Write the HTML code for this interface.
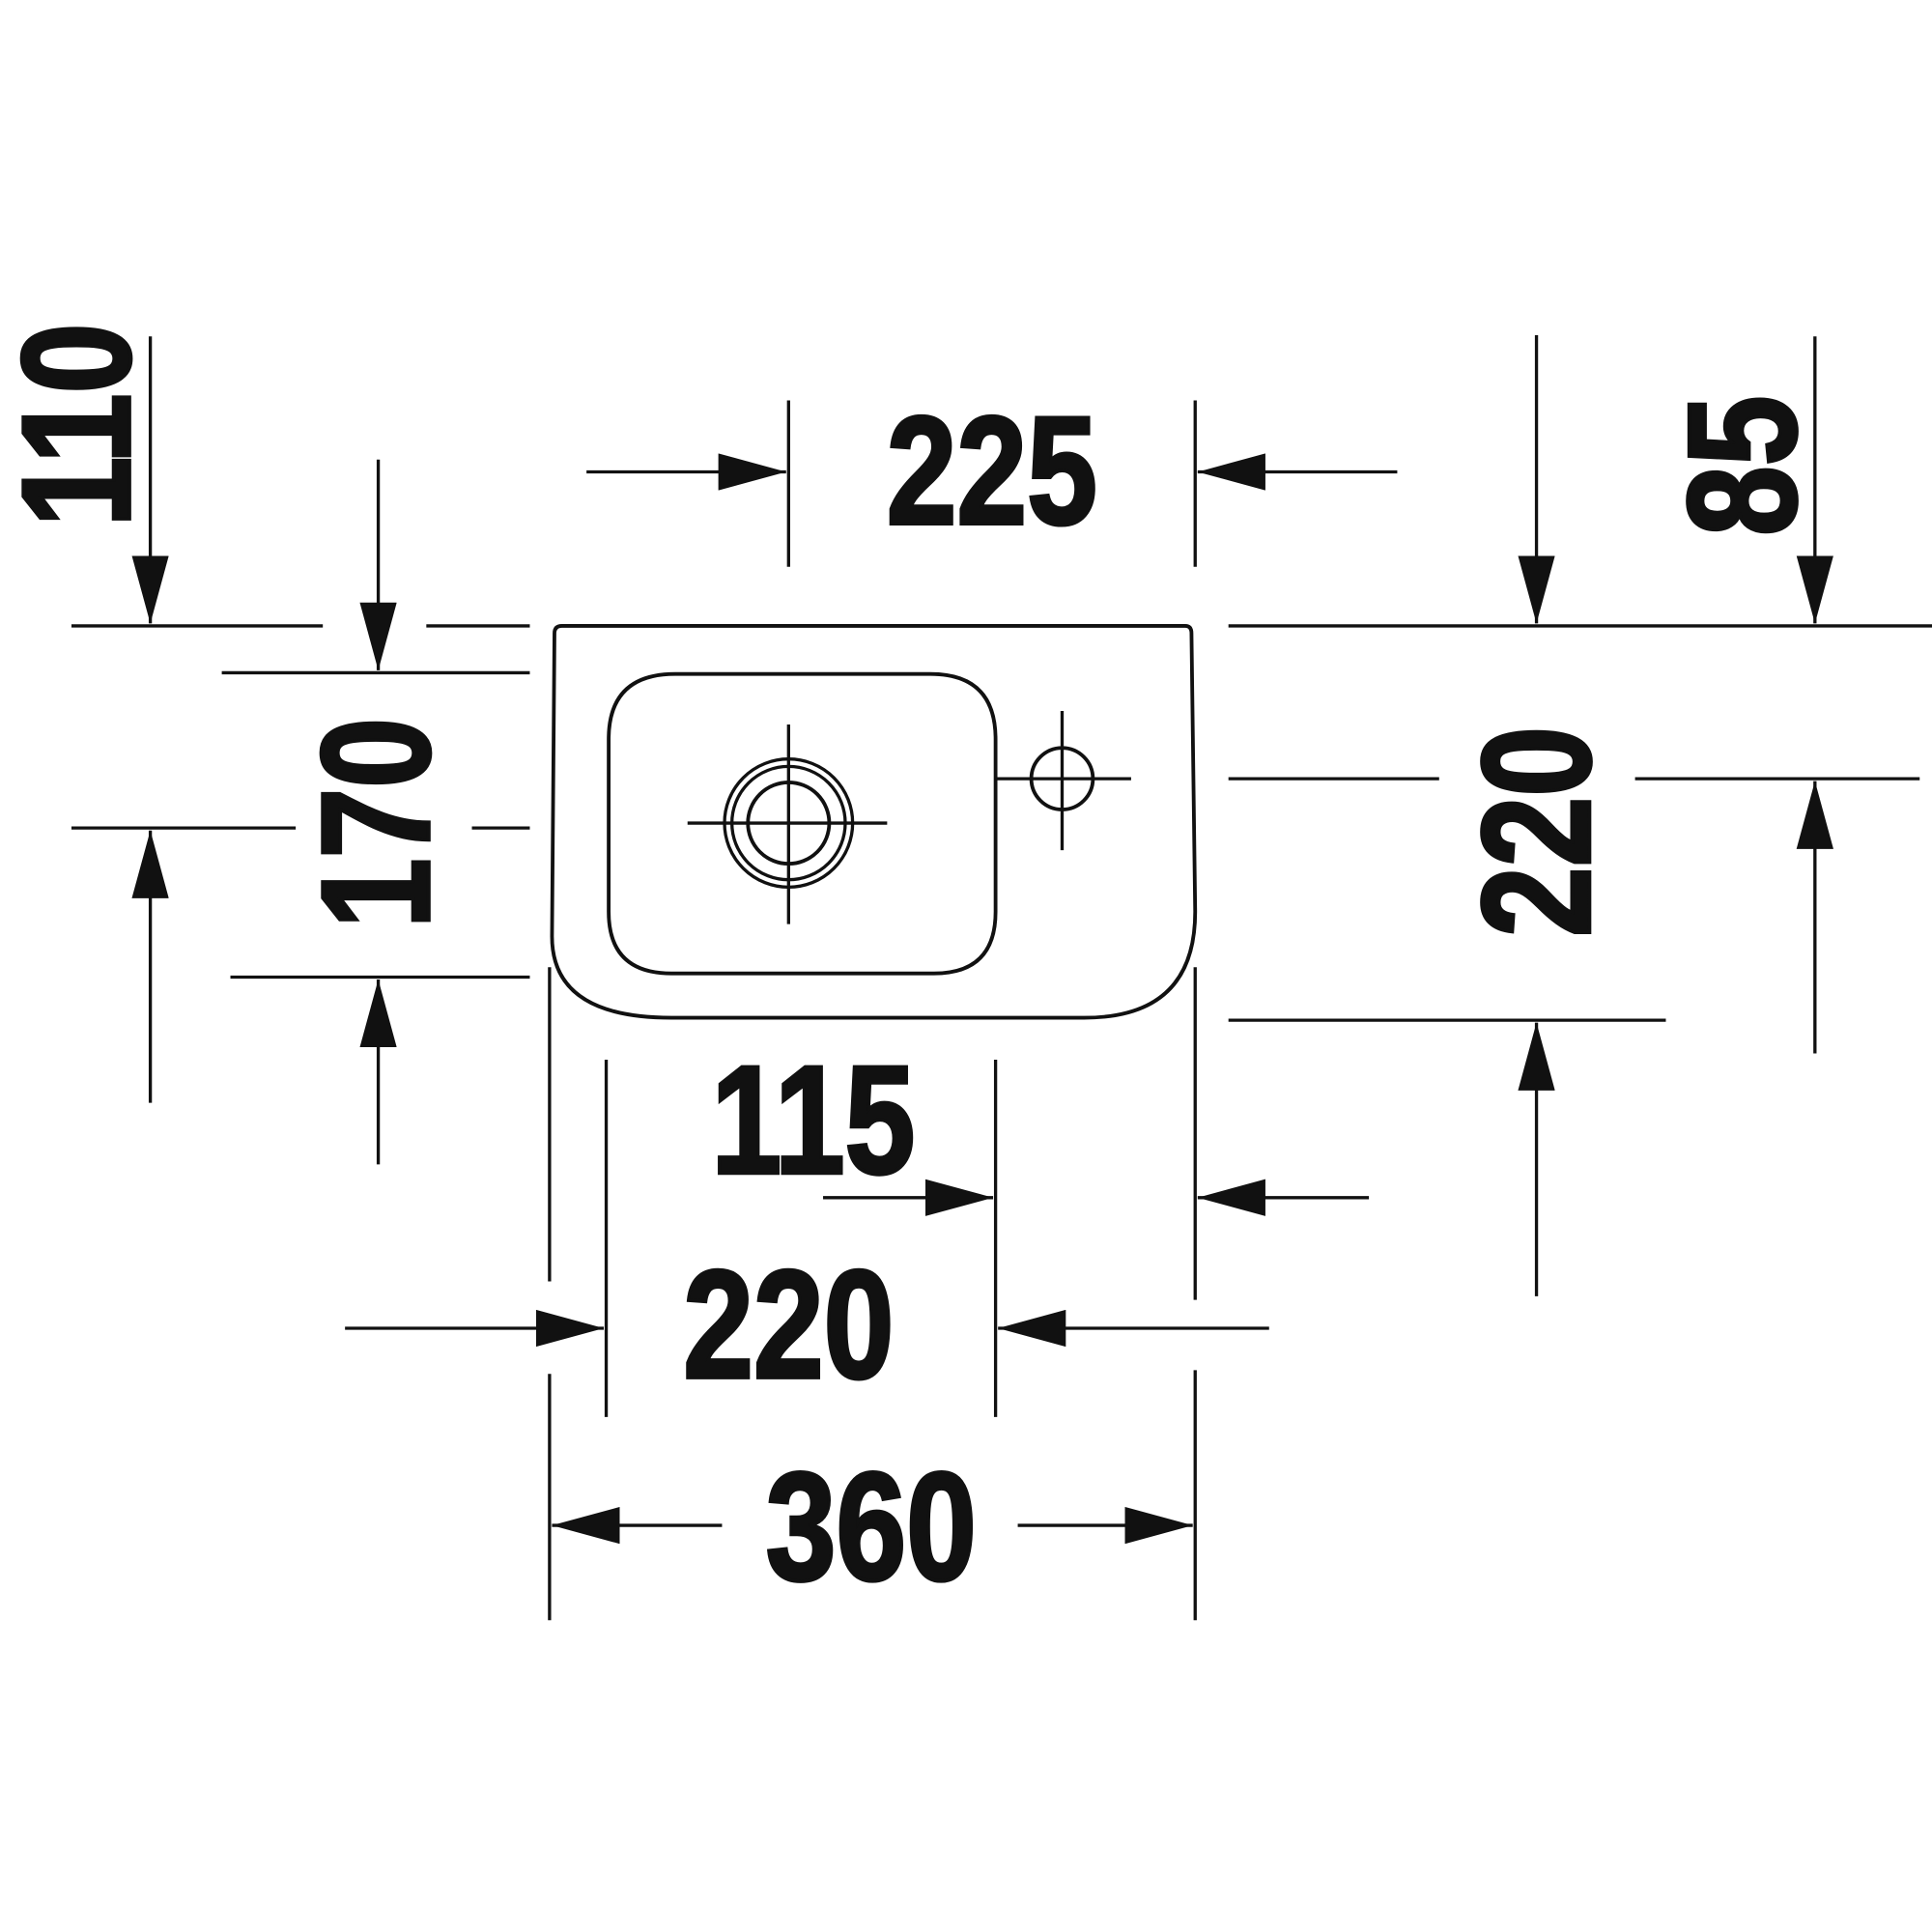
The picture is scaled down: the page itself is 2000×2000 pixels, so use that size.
<!DOCTYPE html>
<html><head><meta charset="utf-8"><style>html,body{margin:0;padding:0;background:#fff}svg{display:block}</style></head>
<body>
<svg width="2000" height="2000" viewBox="0 0 1568 1568" xmlns="http://www.w3.org/2000/svg">
<defs>
<marker id="a" viewBox="0 0 55 30" refX="55" refY="15" markerWidth="55" markerHeight="30" markerUnits="userSpaceOnUse" orient="auto">
<path d="M0,0 L55,15 L0,30 z" fill="#111"/></marker>
</defs>
<g stroke="#111" stroke-width="2.6" fill="none">
<path d="M456,508 L962,508 Q967,508 967,514 L970,740 Q970,826 880,826 L545,826 Q448,826 448,760 L450,514 Q450,508 456,508 Z" stroke-width="3"/>
<path d="M548,547 L755,547 Q808,547 808,600 L808,740 Q808,790 758,790 L545,790 Q494,790 494,740 L494,600 Q494,547 548,547 Z" stroke-width="3"/>
<circle cx="640" cy="668" r="52"/><circle cx="640" cy="668" r="46"/><circle cx="640" cy="668" r="33" stroke-width="3"/>
<line x1="558" y1="668" x2="720" y2="668"/><line x1="640" y1="588" x2="640" y2="750"/>
<circle cx="862" cy="632" r="25" stroke-width="3"/>
<line x1="808" y1="632" x2="918" y2="632"/><line x1="862" y1="577" x2="862" y2="690"/>
<line x1="58" y1="508" x2="262" y2="508"/><line x1="346" y1="508" x2="430" y2="508"/>
<line x1="180" y1="546" x2="430" y2="546"/><line x1="187" y1="793" x2="430" y2="793"/>
<line x1="58" y1="672" x2="240" y2="672"/><line x1="383" y1="672" x2="430" y2="672"/>
<line x1="640" y1="325" x2="640" y2="460"/><line x1="970" y1="325" x2="970" y2="460"/>
<line x1="997" y1="508" x2="1568" y2="508"/>
<line x1="997" y1="632" x2="1168" y2="632"/><line x1="1327" y1="632" x2="1558" y2="632"/>
<line x1="997" y1="828" x2="1352" y2="828"/>
<line x1="446" y1="785" x2="446" y2="1040"/><line x1="446" y1="1115" x2="446" y2="1315"/>
<line x1="970" y1="785" x2="970" y2="1055"/><line x1="970" y1="1112" x2="970" y2="1315"/>
<line x1="492" y1="860" x2="492" y2="1150"/><line x1="808" y1="860" x2="808" y2="1150"/>
<g marker-end="url(#a)">
<line x1="122" y1="273" x2="122" y2="506"/>
<line x1="307" y1="373" x2="307" y2="544"/>
<line x1="307" y1="945" x2="307" y2="795"/>
<line x1="122" y1="895" x2="122" y2="674"/>
<line x1="476" y1="383" x2="638" y2="383"/>
<line x1="1134" y1="383" x2="972" y2="383"/>
<line x1="1247" y1="272" x2="1247" y2="506"/>
<line x1="1473" y1="273" x2="1473" y2="506"/>
<line x1="1473" y1="855" x2="1473" y2="634"/>
<line x1="1247" y1="1052" x2="1247" y2="830"/>
<line x1="668" y1="972" x2="806" y2="972"/>
<line x1="1111" y1="972" x2="972" y2="972"/>
<line x1="280" y1="1078" x2="490" y2="1078"/>
<line x1="1030" y1="1078" x2="810" y2="1078"/>
<line x1="586" y1="1238" x2="448" y2="1238"/>
<line x1="826" y1="1238" x2="968" y2="1238"/>
</g>
</g>
<g font-family="Liberation Sans, sans-serif" font-weight="bold" font-size="125" fill="#111" text-anchor="middle" stroke="#111" stroke-width="3">
<text transform="translate(805,425) scale(0.82,1)">225</text>
<text transform="translate(660,952) scale(0.82,1)">115</text>
<text transform="translate(640,1118) scale(0.82,1)">220</text>
<text transform="translate(707,1282) scale(0.82,1)">360</text>
<text transform="translate(105,345) rotate(-90) scale(0.82,1)">110</text>
<text transform="translate(348,668) rotate(-90) scale(0.82,1)">170</text>
<text transform="translate(1290,675) rotate(-90) scale(0.82,1)">220</text>
<text transform="translate(1457,378) rotate(-90) scale(0.82,1)">85</text>
</g>
</svg>
</body></html>
